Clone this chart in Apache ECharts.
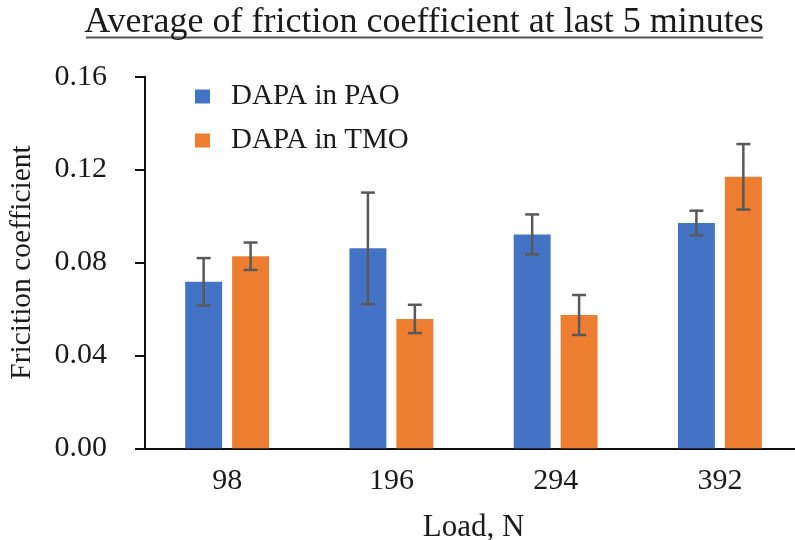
<!DOCTYPE html>
<html>
<head>
<meta charset="utf-8">
<script src="https://cdn.jsdelivr.net/npm/echarts@6/dist/echarts.min.js"></script>
<style>html,body{margin:0;padding:0;background:#fff;}#c{width:795px;height:540px;}</style>
</head>
<body>
<div id="c"></div>
<script>
const categories = ['98', '196', '294', '392'];
const seriesNames = ['DAPA in PAO', 'DAPA in TMO'];
const paoValues = [0.0717, 0.0861, 0.0921, 0.0970];
const paoErrors = [0.0102, 0.0240, 0.0086, 0.0053];
const tmoValues = [0.0827, 0.0557, 0.0574, 0.1169];
const tmoErrors = [0.0059, 0.0061, 0.0086, 0.0141];
const yTicks = { min: 0, max: 0.16, interval: 0.04 };

const FONT = '"Liberation Serif", "Times New Roman", serif';
const BAR_W = 0.225;   // fraction of band
const BAR_GAP = 0.27;  // fraction of bar width
const colors = ['#4472C4', '#ED7D31'];

function errSeries(values, errs, side) {
  return {
    type: 'custom',
    silent: true,
    z: 5,
    data: values.map((v, i) => [i, v, errs[i]]),
    renderItem: function (params, api) {
      const i = api.value(0), v = api.value(1), e = api.value(2);
      const band = api.size([1, 0])[0];
      const off = side * band * BAR_W * (1 + BAR_GAP) / 2;
      const x = api.coord([i, v])[0] + off;
      const yt = api.coord([i, v + e])[1];
      const yb = api.coord([i, v - e])[1];
      const cap = 7;
      const st = { stroke: '#595959', lineWidth: 2.5 };
      return {
        type: 'group',
        children: [
          { type: 'line', shape: { x1: x, y1: yt, x2: x, y2: yb }, style: st },
          { type: 'line', shape: { x1: x - cap, y1: yt, x2: x + cap, y2: yt }, style: st },
          { type: 'line', shape: { x1: x - cap, y1: yb, x2: x + cap, y2: yb }, style: st }
        ]
      };
    }
  };
}

const chart = echarts.init(document.getElementById('c'), null, { renderer: 'canvas' });
chart.setOption({
  animation: false,
  backgroundColor: '#fff',
  color: colors,
  title: {
    text: 'Average of friction coefficient at last 5 minutes',
    left: 419, top: 0, textAlign: 'center',
    textStyle: { fontFamily: FONT, fontSize: 36, fontWeight: 'normal', color: '#1a1a1a' }
  },
  graphic: [{
    type: 'line', shape: { x1: 86, y1: 37.5, x2: 763, y2: 37.5 },
    style: { stroke: '#555', lineWidth: 2 }
  }],
  legend: {
    orient: 'vertical', left: 190, top: 77,
    itemWidth: 15, itemHeight: 14, itemGap: 15,
    icon: 'rect',
    textStyle: { fontFamily: FONT, fontSize: 29, color: '#1a1a1a', padding: [0, 0, 0, 16] },
    data: seriesNames
  },
  grid: { left: 145, right: -7, top: 76.7, bottom: 91.7, containLabel: false, outerBoundsMode: 'none' },
  xAxis: {
    type: 'category', data: categories,
    name: 'Load, N', nameLocation: 'middle', nameGap: 64,
    nameTextStyle: { fontFamily: FONT, fontSize: 31, color: '#1a1a1a' },
    axisLine: { lineStyle: { color: '#111', width: 2 } },
    axisTick: { show: false },
    axisLabel: { fontFamily: FONT, fontSize: 30, color: '#1a1a1a', margin: 18 }
  },
  yAxis: {
    type: 'value', min: yTicks.min, max: yTicks.max, interval: yTicks.interval,
    name: 'Fricition coefficient', nameLocation: 'middle', nameGap: 108, nameRotate: 90,
    nameTextStyle: { fontFamily: FONT, fontSize: 29.5, color: '#1a1a1a' },
    axisLine: { show: true, lineStyle: { color: '#111', width: 2 } },
    axisTick: { show: true, inside: false, length: 10, lineStyle: { color: '#111', width: 2 } },
    splitLine: { show: false },
    axisLabel: { fontFamily: FONT, fontSize: 30, color: '#1a1a1a', margin: 38,
      formatter: v => v.toFixed(2) }
  },
  series: [
    { name: seriesNames[0], type: 'bar', data: paoValues, barWidth: (BAR_W * 100) + '%', barGap: (BAR_GAP * 100) + '%',
      itemStyle: { color: colors[0] } },
    { name: seriesNames[1], type: 'bar', data: tmoValues, barWidth: (BAR_W * 100) + '%', barGap: (BAR_GAP * 100) + '%',
      itemStyle: { color: colors[1] } },
    errSeries(paoValues, paoErrors, -1),
    errSeries(tmoValues, tmoErrors, 1)
  ]
});
</script>
</body>
</html>
